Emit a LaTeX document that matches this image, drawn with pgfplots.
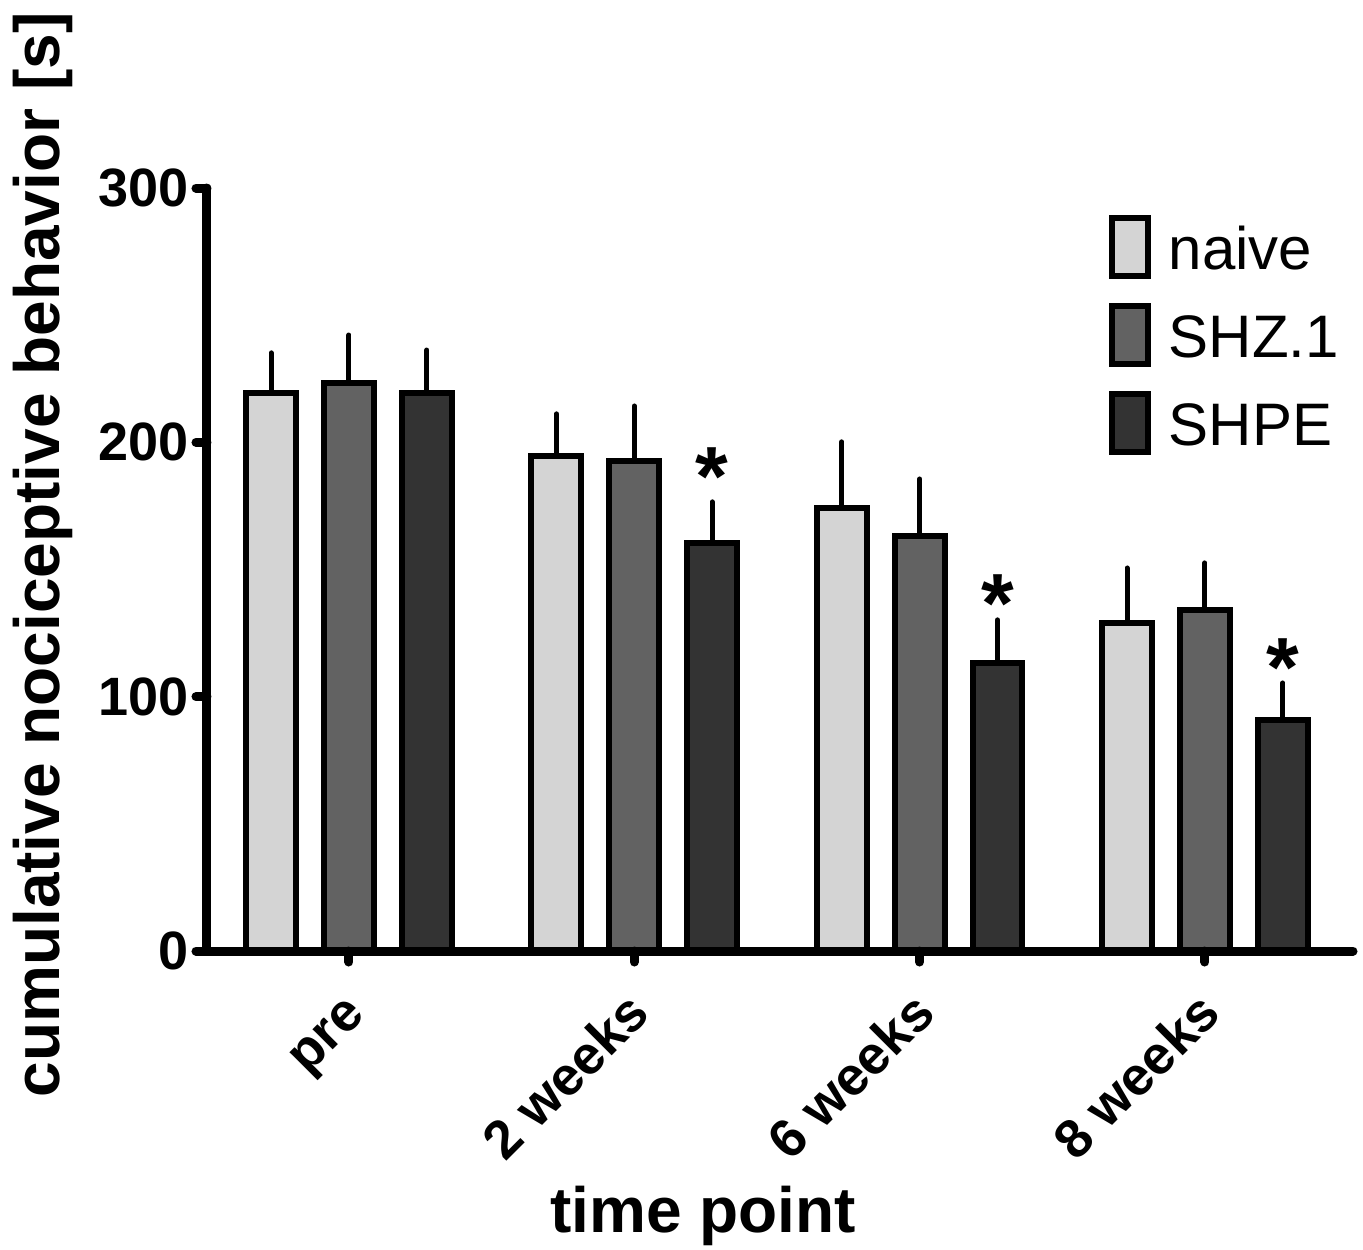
\documentclass[border=0pt]{standalone}
\usepackage{fontspec}
\setmainfont{Liberation Sans}
\usepackage{pgfplots}
\pgfplotsset{compat=1.18}
\definecolor{cnaive}{HTML}{D4D4D4}
\definecolor{cshz}{HTML}{626262}
\definecolor{cshpe}{HTML}{333333}
\begin{document}
\begin{tikzpicture}
\useasboundingbox (-103.5pt,-149pt) rectangle (578pt,475.5pt);
\begin{axis}[
  scale only axis, width=573pt, height=381.5pt,
  xmin=-0.4977, xmax=3.519, ymin=0, ymax=300,
  clip=false, axis on top,
  axis x line*=bottom, axis y line*=left,
  axis line style={line width=4.5pt, line cap=round, black},
  tick align=outside, major tick length=5.5pt,
  tick style={line width=4.5pt, line cap=round, black},
  xtick={0,1,2,3}, xticklabels={pre,2 weeks,6 weeks,8 weeks},
  ytick={0,100,200,300},
  /pgf/number format/assume math mode=true,
  yticklabel style={font=\bfseries\fontsize{27}{27}\selectfont},
  xticklabel style={font=\bfseries\fontsize{27}{27}\selectfont, xshift=9pt, yshift=-27pt, rotate=45, anchor=base east, inner sep=0pt},
  ylabel={cumulative nociceptive behavior [s]},
  ylabel style={font=\bfseries\fontsize{32}{32}\selectfont, at={(axis description cs:-0.1283,0.519)}, anchor=base},
  xlabel={time point},
  xlabel style={font=\bfseries\fontsize{32}{32}\selectfont, at={(axis description cs:0.433,-0.3683)}, anchor=base},
  ybar, bar shift=0pt, bar width=0.175,
  error bars/y dir=plus, error bars/y explicit, error bars/error mark=none,
  error bars/error bar style={line width=2.5pt, black, line cap=round},
  legend image code/.code={\draw[#1] (0pt,-3.5pt) rectangle (18pt,25.5pt);},
  legend style={draw=none, fill=none, at={(axis description cs:0.7870,0.9640)}, anchor=north west, inner sep=0pt, outer sep=0pt, row sep=12pt, column sep=7pt, font=\fontsize{30}{30}\selectfont, cells={anchor=base west}},
]
\addplot[fill=cnaive, draw=black, line width=3pt] coordinates {
  (-0.273,219.4) +- (0,15.8)
  (0.727,194.7) +- (0,16.5)
  (1.727,174.2) +- (0,26.0)
  (2.727,129.0) +- (0,21.6)
};
\addlegendentry{naive}
\addplot[fill=cshz, draw=black, line width=3pt] coordinates {
  (0,223.4) +- (0,18.8)
  (1,192.7) +- (0,21.6)
  (2,163.2) +- (0,22.4)
  (3,134.1) +- (0,18.5)
};
\addlegendentry{SHZ.1}
\addplot[fill=cshpe, draw=black, line width=3pt] coordinates {
  (0.273,219.4) +- (0,16.9)
  (1.273,160.4) +- (0,16.2)
  (2.273,113.3) +- (0,16.9)
  (3.273,90.8) +- (0,14.6)
};
\addlegendentry{SHPE}
\node[font=\bfseries\fontsize{42}{42}\selectfont, anchor=base, inner sep=0pt] at (axis cs:1.273,175.1) {*};
\node[font=\bfseries\fontsize{42}{42}\selectfont, anchor=base, inner sep=0pt] at (axis cs:2.273,125.1) {*};
\node[font=\bfseries\fontsize{42}{42}\selectfont, anchor=base, inner sep=0pt] at (axis cs:3.273,100.0) {*};
\end{axis}
\end{tikzpicture}
\end{document}
